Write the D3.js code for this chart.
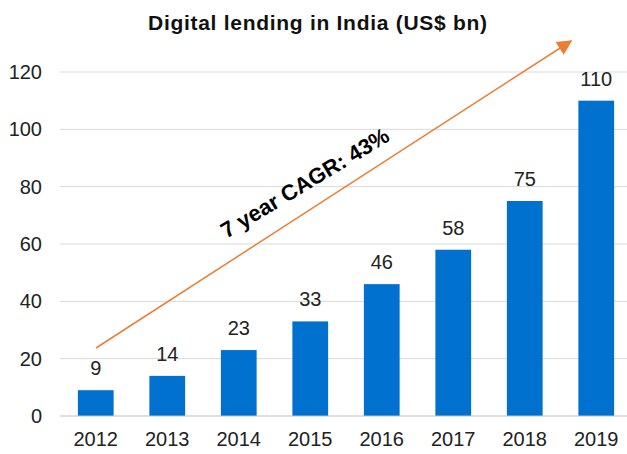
<!doctype html>
<html lang="en">
    <head>
        <meta charset="utf-8">
        <title>Digital lending in India</title>
        <style>
            body { margin: 0; background: #fff; }
            text { font-family: "Liberation Sans", Arial, sans-serif; }
        </style>
    </head>
    <body>
        <svg></svg>
        <script src="https://cdnjs.cloudflare.com/ajax/libs/d3/7.8.5/d3.min.js"></script>
        <script>
            //Chart data
            var years = ["2012", "2013", "2014", "2015", "2016", "2017", "2018", "2019"];
            var lending = [9, 14, 23, 33, 46, 58, 75, 110];
            var yTicks = [0, 20, 40, 60, 80, 100, 120];
            var titleText = "Digital lending in India (US$ bn)";
            var cagrText = "7 year CAGR: 43%";

            //Container size
            var svgWidth = 627;
            var svgHeight = 454;
            var svg = d3.select("svg")
                .attr("width", svgWidth)
                .attr("height", svgHeight);

            //Scales
            var x = d3.scaleBand()
                .domain(years)
                .range([60, 632])
                .paddingInner(0.5)
                .paddingOuter(0.25);
            var y = d3.scaleLinear()
                .domain([0, 120])
                .range([416, 72]);

            //Gridlines
            svg.append("g")
                .selectAll("line")
                .data(yTicks.filter(function(d){ return d > 0; }))
                .enter()
                .append("line")
                .attr("x1", 60)
                .attr("x2", svgWidth)
                .attr("y1", function(d){ return y(d); })
                .attr("y2", function(d){ return y(d); })
                .attr("stroke", "#d9d9d9")
                .attr("stroke-width", 1);

            //Y axis labels
            var yAxis = d3.axisLeft(y).tickValues(yTicks).tickSize(0).tickPadding(0);
            var yg = svg.append("g")
                .attr("transform", "translate(42,0)")
                .call(yAxis);
            yg.select(".domain").remove();
            yg.selectAll("text")
                .attr("font-size", 20)
                .attr("fill", "#222")
                .style("font-family", "'Liberation Sans', Arial, sans-serif");

            //Bars
            svg.append("g")
                .selectAll("rect")
                .data(lending)
                .enter()
                .append("rect")
                .attr("x", function(d, i){ return x(years[i]); })
                .attr("width", x.bandwidth())
                .attr("y", function(d){ return y(d); })
                .attr("height", function(d){ return y(0) - y(d); })
                .attr("fill", "#0071ce");

            //Baseline
            svg.append("line")
                .attr("x1", 60)
                .attr("x2", svgWidth)
                .attr("y1", y(0))
                .attr("y2", y(0))
                .attr("stroke", "#bfbfbf")
                .attr("stroke-width", 1);

            //X axis labels
            var xAxis = d3.axisBottom(x).tickSize(0).tickPadding(0);
            var xg = svg.append("g")
                .attr("transform", "translate(0," + (y(0) + 16) + ")")
                .call(xAxis);
            xg.select(".domain").remove();
            xg.selectAll("text")
                .attr("font-size", 20)
                .attr("fill", "#222")
                .style("font-family", "'Liberation Sans', Arial, sans-serif");

            //Value labels
            svg.append("g")
                .selectAll("text")
                .data(lending)
                .enter()
                .append("text")
                .attr("x", function(d, i){ return x(years[i]) + x.bandwidth() / 2; })
                .attr("y", function(d){ return y(d) - 15; })
                .attr("text-anchor", "middle")
                .attr("font-size", 20)
                .attr("fill", "#222")
                .text(function(d){ return d; });

            //Title
            svg.append("text")
                .attr("x", 148)
                .attr("y", 30)
                .attr("font-size", 21)
                .attr("font-weight", "bold")
                .attr("textLength", 339)
                .attr("lengthAdjust", "spacing")
                .attr("fill", "#111")
                .text(titleText);

            //CAGR arrow
            var defs = svg.append("defs");
            defs.append("marker")
                .attr("id", "head")
                .attr("viewBox", "0 0 10 10")
                .attr("refX", 9)
                .attr("refY", 5)
                .attr("markerWidth", 12)
                .attr("markerHeight", 10)
                .attr("markerUnits", "strokeWidth")
                .attr("orient", "auto")
                .append("path")
                .attr("d", "M0,0 L10,5 L0,10 Z")
                .attr("fill", "#ed7d31");
            svg.append("line")
                .attr("x1", 96)
                .attr("y1", 348)
                .attr("x2", 571)
                .attr("y2", 41)
                .attr("stroke", "#ed7d31")
                .attr("stroke-width", 1.5)
                .attr("marker-end", "url(#head)");

            svg.append("text")
                .attr("transform", "translate(305,183) rotate(-31)")
                .attr("text-anchor", "middle")
                .attr("dominant-baseline", "central")
                .attr("font-size", 22)
                .attr("font-weight", "bold")
                .attr("fill", "#000")
                .text(cagrText);
        </script>
    </body>
</html>
